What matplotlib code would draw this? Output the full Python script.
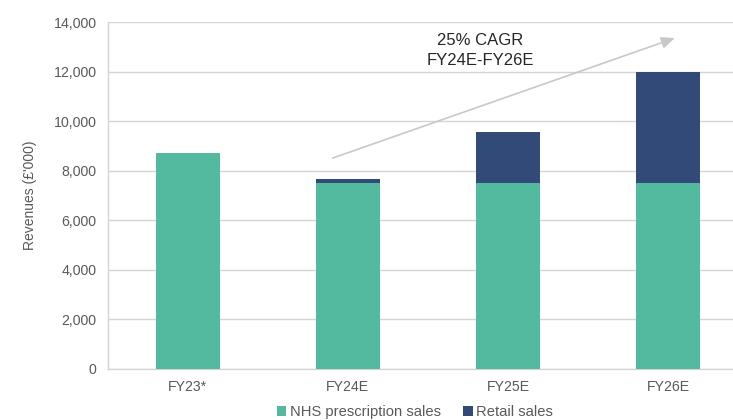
import matplotlib
matplotlib.use("Agg")
import matplotlib.pyplot as plt
import numpy as np

categories = ["FY23*", "FY24E", "FY25E", "FY26E"]
nhs_sales = [8700, 7500, 7500, 7500]
retail_sales = [0, 180, 2080, 4500]
yticks = [0, 2000, 4000, 6000, 8000, 10000, 12000, 14000]

plt.rcParams['font.family'] = ['Liberation Sans', 'DejaVu Sans']

fig = plt.figure(figsize=(7.33, 4.2), dpi=100)
ax = fig.add_axes([107.5/733, 1-369/420, 641/733, 347/420])

x = np.arange(len(categories))
green = "#53BA9F"
navy = "#324A78"
ax.bar(x, nhs_sales, width=0.4, color=green, label="NHS prescription sales", zorder=3)
ax.bar(x, retail_sales, width=0.4, bottom=nhs_sales, color=navy, label="Retail sales", zorder=3)

ax.set_xlim(-0.5, 3.5)
ax.set_ylim(0, 14000)
ax.set_yticks(yticks)
ax.set_yticklabels([f"{v:,}" for v in yticks])
ax.set_xticks(x)
ax.set_xticklabels(categories)
ax.tick_params(axis='both', length=0, colors="#595959", labelsize=10.2)
ax.tick_params(axis='x', pad=8)
ax.tick_params(axis='y', pad=8)
ax.grid(axis='y', color="#d4d4d4", linewidth=1, zorder=0)
for s in ["top", "right"]:
    ax.spines[s].set_visible(False)
for s in ["left", "bottom"]:
    ax.spines[s].set_color("#d4d4d4")
    ax.spines[s].set_linewidth(1)

ax.set_ylabel("Revenues (£'000)", color="#595959", fontsize=10, labelpad=12)

ax.annotate("", xy=(3.04, 13350), xytext=(0.906, 8512),
            arrowprops=dict(arrowstyle="-|>,head_length=0.8,head_width=0.35",
                            color="#c8c8c8", lw=1.2, shrinkA=0, shrinkB=0), zorder=4)
ax.text(1.825, 12850, "25% CAGR\nFY24E-FY26E", ha="center", va="center",
        fontsize=12, color="#262626", linespacing=1.35, zorder=5)

fig.legend(loc="center", bbox_to_anchor=(415/733, 1-412/420), ncol=2, frameon=False,
           fontsize=10.6, handlelength=0.65, handleheight=0.65, handletextpad=0.25,
           columnspacing=1.5, labelcolor="#595959")

fig.savefig("out.png", dpi=100)
